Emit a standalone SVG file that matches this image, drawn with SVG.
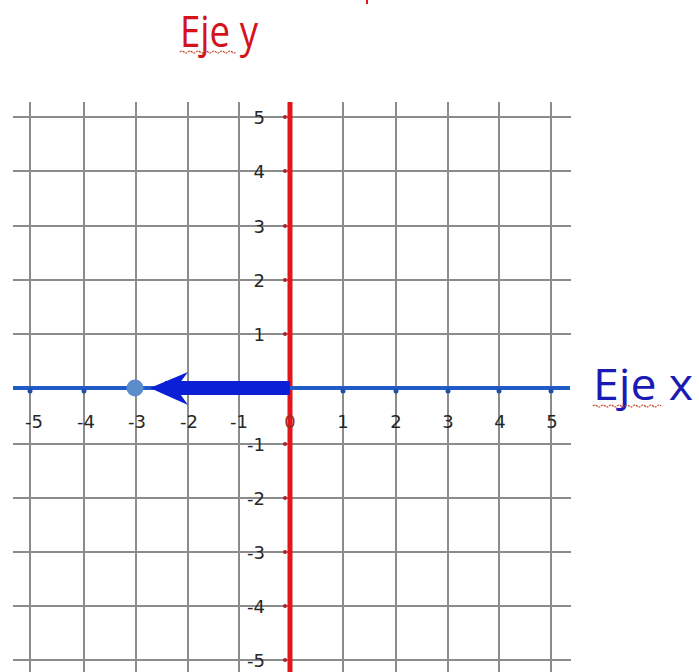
<svg xmlns="http://www.w3.org/2000/svg" width="699" height="672" viewBox="0 0 699 672">
<style>
.grid{stroke:#8c8c8c;stroke-width:2;fill:none}
.lbl{font-family:"DejaVu Sans",Verdana,sans-serif;font-size:18px;fill:#262626}
.title{font-family:"Open Sans","Liberation Sans",sans-serif;font-size:44px}
.squig{fill:none;stroke:#c84020;stroke-width:1.2;stroke-dasharray:2 1}
</style>
<rect width="699" height="672" fill="#ffffff"/>
<g id="grid">
<path class="grid" d="M30 102V672M84 102V672M136 102V672M188 102V672M239 102V672M343 102V672M396 102V672M448 102V672M499 102V672M551 102V672"/>
<path class="grid" d="M13 117H571M13 171H571M13 226H571M13 280H571M13 334H571M13 444H571M13 498H571M13 552H571M13 606H571M13 660H571"/>
</g>
<g id="y-axis">
<line x1="290" y1="102" x2="290" y2="672" stroke="#e3141b" stroke-width="5"/>
<g fill="#b0202a">
<circle cx="285" cy="117" r="2"/><circle cx="285" cy="171" r="2"/><circle cx="285" cy="226" r="2"/><circle cx="285" cy="280" r="2"/><circle cx="285" cy="334" r="2"/>
<circle cx="285" cy="444" r="2"/><circle cx="285" cy="498" r="2"/><circle cx="285" cy="552" r="2"/><circle cx="285" cy="606" r="2"/><circle cx="285" cy="660" r="2"/>
</g>
<g class="lbl" text-anchor="end">
<text x="265" y="124">5</text><text x="265" y="178">4</text><text x="265" y="233">3</text><text x="265" y="287">2</text><text x="265" y="341">1</text>
<text x="265" y="451">-1</text><text x="265" y="505">-2</text><text x="265" y="559">-3</text><text x="265" y="613">-4</text><text x="265" y="667">-5</text>
</g>
</g>
<g id="x-axis">
<line x1="13" y1="388" x2="570" y2="388" stroke="#1f5cc8" stroke-width="4"/>
<g fill="#1f4fa8">
<circle cx="30" cy="391" r="2.5"/><circle cx="84" cy="391" r="2.5"/><circle cx="188" cy="391" r="2.5"/><circle cx="239" cy="384" r="2.5"/>
<circle cx="343" cy="391" r="2.5"/><circle cx="396" cy="391" r="2.5"/><circle cx="448" cy="391" r="2.5"/><circle cx="499" cy="391" r="2.5"/><circle cx="551" cy="391" r="2.5"/>
</g>
<g class="lbl" text-anchor="middle">
<text x="34" y="428">-5</text><text x="86" y="428">-4</text><text x="137" y="428">-3</text><text x="189" y="428">-2</text><text x="239" y="428">-1</text>
<text x="290" y="428" fill="#9a2a2a">0</text>
<text x="343" y="428">1</text><text x="396" y="428">2</text><text x="448" y="428">3</text><text x="500" y="428">4</text><text x="552" y="428">5</text>
</g>
</g>
<g id="vector">
<rect x="165" y="381" width="125" height="14" fill="#0a1fd6"/>
<path d="M150 388L188 372L176 388L188 405Z" fill="#0a1fd6"/>
</g>
<g id="point">
<circle cx="135" cy="388" r="8.5" fill="#5b8ccc"/>
</g>
<g id="titles">
<text class="title" x="180" y="47" fill="#d4141c" textLength="78" lengthAdjust="spacingAndGlyphs">Eje y</text>
<path class="squig" d="M180 52q2 -2 4 0t4 0t4 0t4 0t4 0t4 0t4 0t4 0t4 0t4 0t4 0t4 0t4 0t4 0"/>
<text class="title" x="593" y="400" fill="#1a1ab4" textLength="100" lengthAdjust="spacingAndGlyphs">Eje x</text>
<path class="squig" d="M593 406q2 -2 4 0t4 0t4 0t4 0t4 0t4 0t4 0t4 0t4 0t4 0t4 0t4 0t4 0t4 0t4 0t4 0t4 0"/>
<rect x="366" y="0" width="2" height="4" fill="#e3141b"/>
</g>
</svg>
